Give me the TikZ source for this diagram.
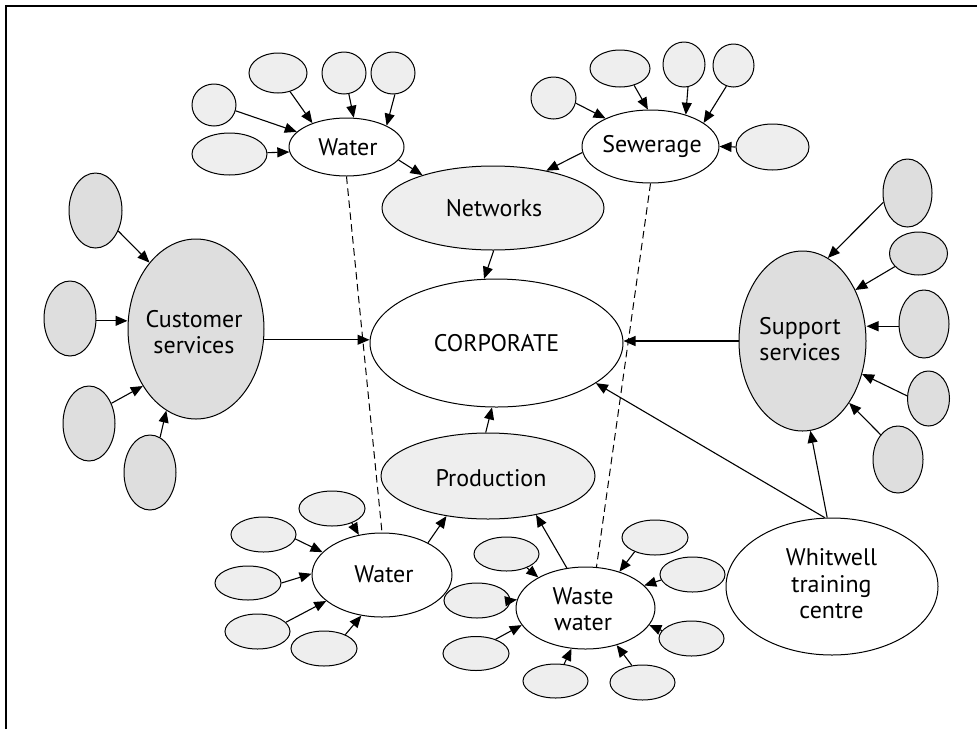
\documentclass[tikz,border=0pt]{standalone}
\usepackage{fontspec}
\setmainfont{PT Sans}
\usetikzlibrary{shapes.geometric,arrows.meta}
\definecolor{lite}{HTML}{EEEEEE}
\definecolor{dark}{HTML}{DEDEDE}
\tikzset{
  bub/.style args={#1/#2}{ellipse, draw, line width=1pt, minimum width=#1pt, minimum height=#2pt, inner sep=0pt},
  lt/.style={fill=lite}, dk/.style={fill=dark}, wt/.style={fill=white},
  arr/.style={-{Triangle[length=12pt,width=10pt]}, line width=1.1pt},
  dsh/.style={line width=1pt, dash pattern=on 7.5pt off 4.5pt},
  lbl/.style={font=\fontsize{24}{26.5}\selectfont, align=center, inner sep=0pt}
}
\begin{document}
\begin{tikzpicture}[x=1pt,y=-1pt]
\useasboundingbox (0,0) rectangle (977,729);
\draw[line width=1.5pt] (6,729) -- (6,6) -- (977,6);
% main ellipses
\node[bub=115/58, wt] (w1) at (346.5,147) {};
\node[bub=222/84, lt] (net) at (493,208) {};
\node[bub=253/128, wt] (corp) at (496.5,343) {};
\node[bub=136/180, dk] (cs) at (196,329) {};
\node[bub=137/73, wt] (sew) at (650.5,146.5) {};
\node[bub=127/180, dk] (ss) at (802.5,341) {};
\node[bub=212/137, wt] (wh) at (832,586.5) {};
\node[bub=214/86, lt] (prod) at (488,476) {};
\node[bub=140/84, wt] (w2) at (382,575) {};
\node[bub=139/82, wt] (ww) at (585.5,608) {};
% labels
\node[lbl] (w1t) at (348,147) {Water};
\node[lbl] (nett) at (494,208) {Networks};
\node[lbl] (corpt) at (496.5,343) {CORPORATE};
\node[lbl] (cst) at (194,332) {Customer\\services};
\node[lbl] (sewt) at (652,146) {Sewerage};
\node[lbl] (sst) at (800,339) {Support\\services};
\node[lbl] (wht) at (831.5,584) {Whitwell\\training\\centre};
\node[lbl] (prodt) at (491,478) {Production};
\node[lbl] (w2t) at (384,574) {Water};
\node[lbl] (wwt) at (583,609) {Waste\\water};
% satellites of top Water
\node[bub=58/40, lt] (a1) at (278,73) {};
\node[bub=44/42, lt] (a2) at (344,73) {};
\node[bub=44/42, lt] (a3) at (393,73) {};
\node[bub=44/42, lt] (a4) at (214,105) {};
\node[bub=75/42, lt] (a5) at (229.5,154) {};
% satellites of Sewerage
\node[bub=45/42, lt] (c1) at (553.5,98) {};
\node[bub=60/37, lt] (c2) at (620,68.5) {};
\node[bub=42/45, lt] (c3) at (684,64.5) {};
\node[bub=41/43, lt] (c4) at (733.5,65.5) {};
\node[bub=73/46, lt] (c5) at (772.5,147) {};
% satellites of Customer services
\node[bub=53/75, dk] (b1) at (95.5,210.5) {};
\node[bub=52/75, dk] (b2) at (70,318.5) {};
\node[bub=52/75, dk] (b3) at (89,423.5) {};
\node[bub=52/75, dk] (b4) at (150,472.5) {};
% satellites of Support services
\node[bub=49/68, dk] (d1) at (907.5,193) {};
\node[bub=58/43, dk] (d2) at (918.5,253.5) {};
\node[bub=50/68, dk] (d3) at (924,324) {};
\node[bub=42/55, dk] (d4) at (928.5,398.5) {};
\node[bub=50/67, dk] (d5) at (898,459.5) {};
% satellites of bottom Water
\node[bub=66/35, lt] (e1) at (332,508.5) {};
\node[bub=65/35, lt] (e2) at (263.5,534.5) {};
\node[bub=66/34, lt] (e3) at (248,583) {};
\node[bub=65/35, lt] (e4) at (257.5,631.5) {};
\node[bub=66/35, lt] (e5) at (324,648.5) {};
% satellites of Waste water
\node[bub=65/34, lt] (f1) at (506.5,554) {};
\node[bub=66/35, lt] (f2) at (477,600.5) {};
\node[bub=66/34, lt] (f3) at (476,653.5) {};
\node[bub=65/34, lt] (f4) at (555.5,681) {};
\node[bub=65/35, lt] (f5) at (642.5,682.5) {};
\node[bub=65/35, lt] (f6) at (691.5,638.5) {};
\node[bub=65/35, lt] (f7) at (692.5,574.5) {};
\node[bub=66/35, lt] (f8) at (655,537.5) {};
% dashed links
\draw[dsh] (w1.south) -- (w2.north);
\draw[dsh] (sew.south) -- (ww.75);
% arrows
\draw[arr] (a4.-15) -- (w1.163);
\draw[arr] (a5.2) -- (w1.185);
\draw[arr] (a1.-57) -- (w1.145);
\draw[arr] (a2.-77) -- (w1.76);
\draw[arr] (a3.-85) -- (w1.28);
\draw[arr] (w1.-14) -- (net.155);
\draw[arr] (c1.-13) -- (sew.148);
\draw[arr] (c2.-50) -- (sew.94);
\draw[arr] (c3.-80) -- (sew.42);
\draw[arr] (c4.-109) -- (sew.24);
\draw[arr] (c5.west) -- (sew.east);
\draw[arr] (sew.185) -- (net.35);
\draw[arr] (net.-89) -- (corp.101);
\draw[arr] (cs.-9) -- (cs.-9 -| corp.west);
\draw[arr] (ss.west) -- (ss.west -| corp.east);
\draw[arr] (b1.-42) -- (cs.125);
\draw[arr] (b2.-5) -- (b2.-5 -| cs.west);
\draw[arr] (b3.42) -- (cs.227);
\draw[arr] (b4.74) -- (cs.250);
\draw[arr] (d1.201) -- (ss.73);
\draw[arr] (d2.209) -- (ss.44);
\draw[arr] (d3.185) -- (d3.185 -| ss.east);
\draw[arr] (d4.173) -- (ss.-29);
\draw[arr] (d5.125) -- (ss.-53);
\draw[arr] (wh.94) -- (ss.-85);
\draw[arr] (wh.96) -- (corp.-22);
\draw[arr] (prod.93) -- (corp.-94);
\draw[arr] (w2.35) -- (prod.224);
\draw[arr] (ww.115) -- (prod.-39);
\draw[arr] (e1.-36) -- (w2.120);
\draw[arr] (e2.-8) -- (w2.159);
\draw[arr] (e3.0) -- (w2.179);
\draw[arr] (e4.18) -- (w2.205);
\draw[arr] (e5.33) -- (w2.243);
\draw[arr] (f1.-34) -- (ww.147);
\draw[arr] (f2.0) -- (ww.173);
\draw[arr] (f3.36) -- (ww.195);
\draw[arr] (f4.63) -- (ww.251);
\draw[arr] (f5.122) -- (ww.-50);
\draw[arr] (f6.165) -- (ww.-15);
\draw[arr] (f7.190) -- (ww.21);
\draw[arr] (f8.215) -- (ww.47);
\end{tikzpicture}
\end{document}
